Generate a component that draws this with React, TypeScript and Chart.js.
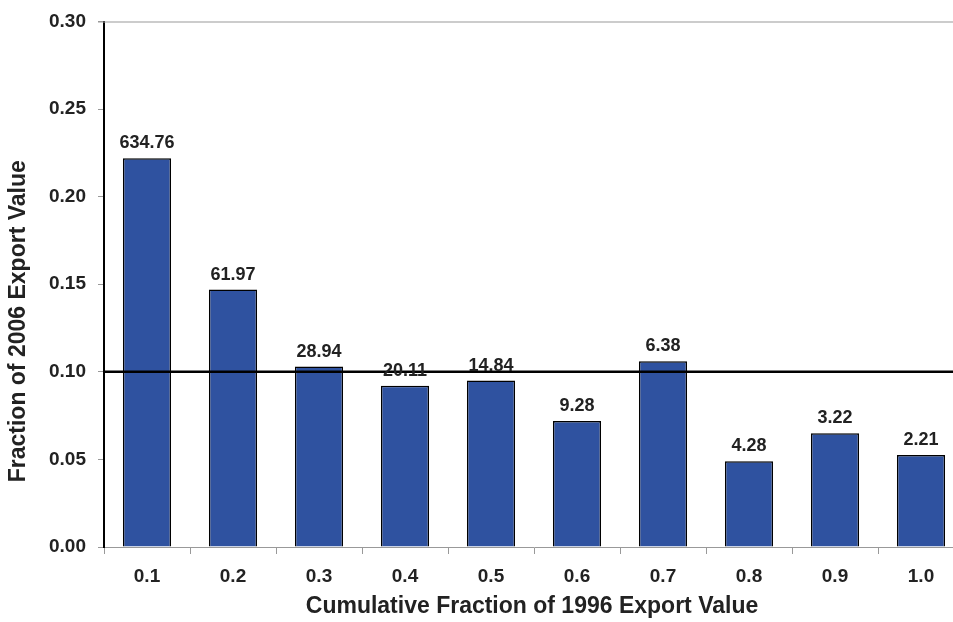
import React, { useEffect, useRef } from "react";
import { Chart, registerables } from "chart.js";

Chart.register(...registerables);

const categories = ["0.1", "0.2", "0.3", "0.4", "0.5", "0.6", "0.7", "0.8", "0.9", "1.0"];
const fractionValues = [0.222, 0.147, 0.103, 0.092, 0.095, 0.072, 0.106, 0.049, 0.065, 0.0525];
const barLabels = ["634.76", "61.97", "28.94", "20.11", "14.84", "9.28", "6.38", "4.28", "3.22", "2.21"];
const referenceLevel = 0.1;
const yTitle = "Fraction of 2006 Export Value";
const xTitle = "Cumulative Fraction of 1996 Export Value";

const FONT = "Arial, 'Liberation Sans', Helvetica, sans-serif";
const TEXT = "#222222";

const overlayPlugin = {
  id: "overlay",
  afterDatasetsDraw(chart: any) {
    const { ctx, chartArea, scales } = chart;
    const y = scales.y;
    ctx.save();
    // top border line
    ctx.strokeStyle = "#999999";
    ctx.lineWidth = 1;
    ctx.beginPath();
    ctx.moveTo(chartArea.left - 6, chartArea.top + 0.5);
    ctx.lineTo(chartArea.right, chartArea.top + 0.5);
    ctx.stroke();
    // reference line
    const ry = y.getPixelForValue(referenceLevel);
    ctx.strokeStyle = "#000000";
    ctx.lineWidth = 2.5;
    ctx.beginPath();
    ctx.moveTo(chartArea.left, ry);
    ctx.lineTo(chartArea.right, ry);
    ctx.stroke();
    // bar labels
    const meta = chart.getDatasetMeta(0);
    ctx.fillStyle = TEXT;
    ctx.font = `bold 18px ${FONT}`;
    ctx.textAlign = "center";
    ctx.textBaseline = "alphabetic";
    meta.data.forEach((bar: any, i: number) => {
      ctx.fillText(barLabels[i], bar.x, bar.y - 10);
    });
    // titles
    ctx.font = `bold 23px ${FONT}`;
    ctx.textBaseline = "middle";
    ctx.fillText(xTitle, (chartArea.left + chartArea.right) / 2 - 2, chartArea.bottom + 60);
    ctx.translate(19, (chartArea.top + chartArea.bottom) / 2 + 37);
    ctx.rotate(-Math.PI / 2);
    ctx.fillText(yTitle, 0, 0);
    ctx.restore();
  },
};

export default function App() {
  const ref = useRef<HTMLCanvasElement | null>(null);
  useEffect(() => {
    if (!ref.current) return;
    const chart = new Chart(ref.current, {
      type: "bar",
      data: {
        labels: categories,
        datasets: [
          {
            data: fractionValues,
            backgroundColor: "#2F52A0",
            borderColor: "#000000",
            borderWidth: 1.5,
            barPercentage: 0.56,
            categoryPercentage: 1,
          },
        ],
      },
      options: {
        responsive: false,
        animation: false,
        devicePixelRatio: 1,
        layout: { padding: { left: 0, right: 11, top: 21, bottom: 0 } },
        plugins: { legend: { display: false }, tooltip: { enabled: false } },
        scales: {
          x: {
            grid: { display: true, offset: true, drawOnChartArea: false, tickLength: 7, color: "#999999" },
            border: { color: "#999999", width: 1 },
            ticks: { color: TEXT, font: { family: FONT, size: 19, weight: "bold" }, padding: 11 },
            afterFit: (s: any) => { s.height = 75; },
          },
          y: {
            min: 0,
            max: 0.3,
            grid: { display: true, drawOnChartArea: false, tickLength: 6, color: "#999999" },
            border: { color: "#000000", width: 2 },
            ticks: {
              stepSize: 0.05,
              color: TEXT,
              font: { family: FONT, size: 19, weight: "bold", lineHeight: 1 },
              padding: 12,
              callback: (v: any) => Number(v).toFixed(2),
            },
            afterFit: (s: any) => { s.width = 104; },
          },
        },
      },
      plugins: [overlayPlugin],
    });
    return () => chart.destroy();
  }, []);
  return (
    <div style={{ position: "fixed", left: 0, top: 0, width: 953, height: 622, overflow: "hidden", background: "#fff" }}>
      <canvas ref={ref} width={975} height={622} style={{ width: 975, height: 622, display: "block" }} />
    </div>
  );
}
